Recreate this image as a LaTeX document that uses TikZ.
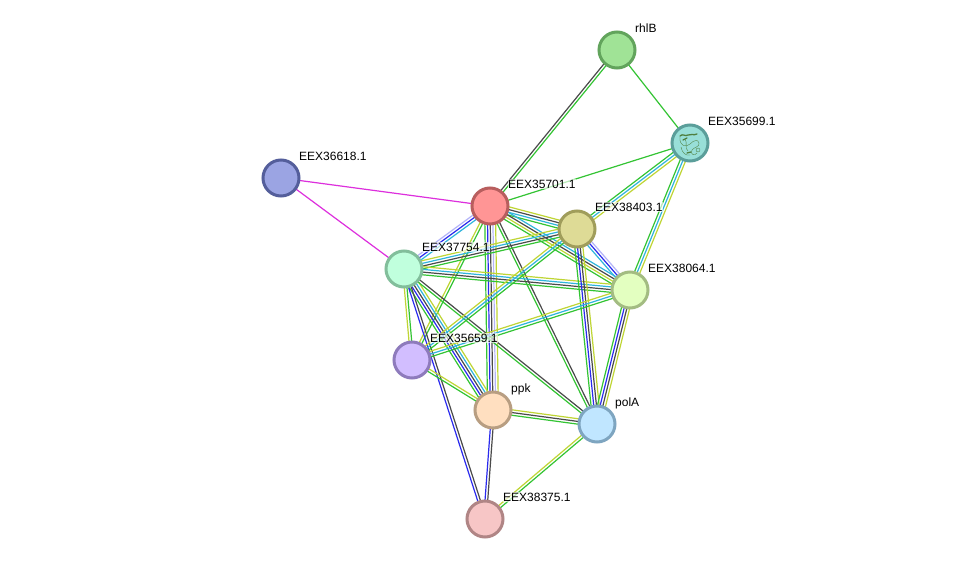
\documentclass[tikz,border=0pt]{standalone}
\usepackage{fontspec}
\setmainfont{Liberation Sans}
\usetikzlibrary{calc}
\pgfdeclarelayer{edges}
\pgfdeclarelayer{labels}
\pgfsetlayers{edges,main,labels}
\definecolor{cG}{HTML}{33C433}
\definecolor{cC}{HTML}{2FB4DC}
\definecolor{cY}{HTML}{BFD534}
\definecolor{cD}{HTML}{4A4A4A}
\definecolor{cB}{HTML}{2A2AEE}
\definecolor{cL}{HTML}{B4B4F8}
\definecolor{cM}{HTML}{DD2FDD}
\definecolor{cI}{HTML}{4F7F3F}
\definecolor{fRhl}{HTML}{A0E396}\definecolor{bRhl}{HTML}{62A45C}
\definecolor{fNine}{HTML}{98DFD8}\definecolor{bNine}{HTML}{5B9E9A}
\definecolor{fSix}{HTML}{9BA4E3}\definecolor{bSix}{HTML}{545E9B}
\definecolor{fOne}{HTML}{FF9595}\definecolor{bOne}{HTML}{B85E5E}
\definecolor{fThree}{HTML}{DEDB96}\definecolor{bThree}{HTML}{A09D5B}
\definecolor{fFour}{HTML}{C0FFDD}\definecolor{bFour}{HTML}{82BE9B}
\definecolor{fSixFour}{HTML}{E3FFC0}\definecolor{bSixFour}{HTML}{A3BC82}
\definecolor{fFive}{HTML}{D2BEFF}\definecolor{bFive}{HTML}{8E7BBC}
\definecolor{fPpk}{HTML}{FFDFC0}\definecolor{bPpk}{HTML}{B89E82}
\definecolor{fPol}{HTML}{C0E6FF}\definecolor{bPol}{HTML}{7EA5C0}
\definecolor{fSeven}{HTML}{F7C6C6}\definecolor{bSeven}{HTML}{B08585}
\tikzset{
  prot/.style 2 args={circle,minimum size=36pt,inner sep=0pt,line width=3pt,fill=#1,draw=#2},
  lab/.style={anchor=base west,font=\fontsize{12}{14}\selectfont,inner sep=0.5pt,fill=white,fill opacity=.65,text opacity=1},
  edge/.style={line width=1.2pt},
  icon/.style={cI,line width=0.35pt},
  iconbold/.style={cI,line width=1.3pt,line cap=round}
}
\newcommand\bundle[3]{%
  \foreach \c [count=\i] in {#3} {\global\let\nn\i}%
  \foreach \c [count=\i] in {#3} {%
    \pgfmathsetmacro\off{((\nn+1)/2-\i)*2.7}%
    \draw[edge,\c] ($(#1)!\off pt!90:(#2)$) -- ($(#2)!\off pt!-90:(#1)$);
  }%
}
\begin{document}
\begin{tikzpicture}[x=1pt,y=-1pt]
\useasboundingbox (0,0) rectangle (975,564);
% proteins
\node[prot={fRhl}{bRhl}] (rhlB) at (617,50) {};
\node[prot={fNine}{bNine}] (p699) at (690,143) {};
\node[prot={fSix}{bSix}] (p618) at (281,178) {};
\node[prot={fOne}{bOne}] (p701) at (490,206) {};
\node[prot={fThree}{bThree}] (p403) at (577,229) {};
\node[prot={fFour}{bFour}] (p754) at (404,269) {};
\node[prot={fSixFour}{bSixFour}] (p064) at (630,290) {};
\node[prot={fFive}{bFive}] (p659) at (412,360) {};
\node[prot={fPpk}{bPpk}] (ppk) at (493,410) {};
\node[prot={fPol}{bPol}] (polA) at (597,424) {};
\node[prot={fSeven}{bSeven}] (p375) at (485,519) {};
% structure picture inside EEX35699.1
\draw[iconbold] (680,136) .. controls (683,133) and (685,137) .. (688,135) .. controls (691,133) and (693,136) .. (697,134);
\draw[iconbold] (683,140) -- (687,138);
\draw[iconbold] (687,153) -- (691,152);
\draw[icon] (680,137) .. controls (679,146) and (686,148) .. (690,144) .. controls (694,140) and (698,139) .. (699,143) .. controls (700,147) and (694,147) .. (692,150) .. controls (690,154) and (694,157) .. (697,153);
\draw[icon] (681,147) .. controls (682,153) and (686,156) .. (690,155);
\draw[icon] (685,139) .. controls (688,143) and (684,148) .. (688,151);
\draw[icon] (698,150) circle[radius=2];
\begin{pgfonlayer}{edges}
\fill[white] (0,0) rectangle (975,564);
\bundle{rhlB}{p701}{cG,cD}
\bundle{rhlB}{p699}{cG}
\bundle{p699}{p701}{cG}
\bundle{p699}{p403}{cY,cC,cG}
\bundle{p699}{p064}{cY,cC,cG}
\bundle{p618}{p701}{cM}
\bundle{p618}{p754}{cM}
\bundle{p754}{p701}{cL,cB,cC}
\bundle{p701}{p403}{cY,cD,cC,cG}
\bundle{p701}{p064}{cC,cD,cY,cG}
\bundle{p701}{p659}{cG,cY}
\bundle{p701}{ppk}{cY,cL,cD,cB,cG}
\bundle{p701}{polA}{cD,cG}
\bundle{p754}{p403}{cY,cC,cD,cG}
\bundle{p754}{p064}{cY,cC,cD,cG}
\bundle{p754}{p659}{cG,cY}
\bundle{p754}{ppk}{cY,cC,cD,cB,cG}
\bundle{p754}{polA}{cD,cG}
\bundle{p754}{p375}{cD,cB}
\bundle{p403}{p659}{cG,cC,cY}
\bundle{p403}{p064}{cL,cB,cC}
\bundle{p403}{polA}{cY,cD,cB,cG}
\bundle{p064}{polA}{cY,cD,cB,cG}
\bundle{p064}{p659}{cG,cC,cY}
\bundle{p659}{ppk}{cY,cG}
\bundle{ppk}{polA}{cY,cD,cG}
\bundle{ppk}{p375}{cD,cB}
\bundle{polA}{p375}{cG,cY}
\end{pgfonlayer}
\begin{pgfonlayer}{labels}
\node[lab] (lrhl) at (634.5,32.3) {rhlB};
\node[lab] (l699) at (707.5,125.3) {EEX35699.1};
\node[lab] (l618) at (298.5,160.3) {EEX36618.1};
\node[lab] (l701) at (507.5,188.3) {EEX35701.1};
\node[lab] (l403) at (594.5,211.3) {EEX38403.1};
\node[lab] (l754) at (421.5,251.3) {EEX37754.1};
\node[lab] (l064) at (647.5,272.3) {EEX38064.1};
\node[lab] (l659) at (429.5,342.3) {EEX35659.1};
\node[lab] (lppk) at (510.5,392.3) {ppk};
\node[lab] (lpol) at (614.5,406.3) {polA};
\node[lab] (l375) at (502.5,501.3) {EEX38375.1};
\end{pgfonlayer}
\end{tikzpicture}
\end{document}
